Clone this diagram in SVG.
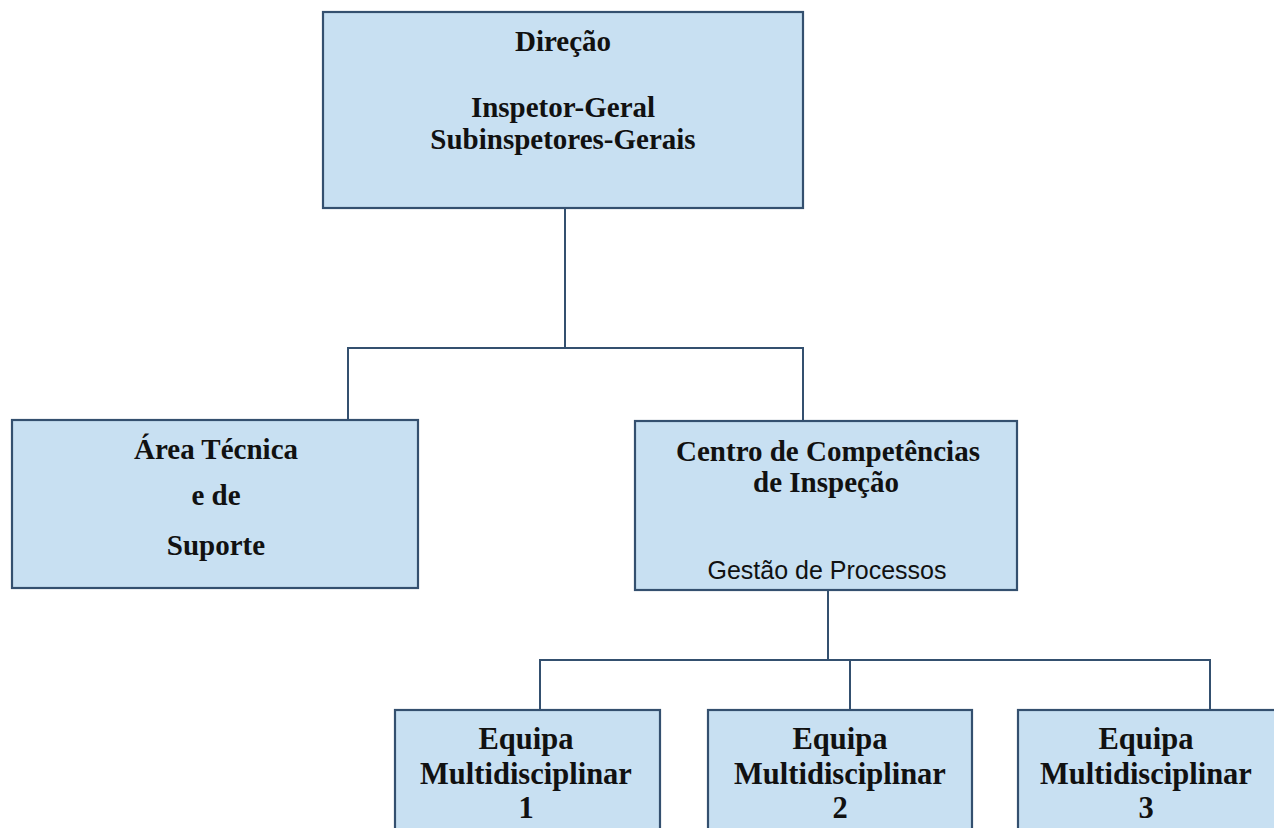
<svg xmlns="http://www.w3.org/2000/svg" width="1274" height="828" viewBox="0 0 1274 828">
<style>
.box{fill:#c8e0f2;stroke:#34506f;stroke-width:2.2}
.t{font-family:"Liberation Serif","Times New Roman",serif;font-weight:bold;font-size:29px;fill:#111;text-anchor:middle}
.b{font-size:30.5px}
.s{font-family:"Liberation Sans",Arial,sans-serif;font-size:25px;fill:#111;text-anchor:middle}
.c{fill:none;stroke:#34506f;stroke-width:2}
</style>
<rect width="1274" height="828" fill="#ffffff"/>
<g id="connectors">
<path class="c" d="M565 208 V348 M348 420 V348 H803 V421"/>
<path class="c" d="M828 590 V660 M540 710 V660 H1210 V710 M850 660 V710"/>
</g>
<g id="direcao">
<rect class="box" x="323" y="12" width="480" height="196"/>
<text class="t" x="563" y="51">Direção</text>
<text class="t" x="563" y="117">Inspetor-Geral</text>
<text class="t" x="563" y="149">Subinspetores-Gerais</text>
</g>
<g id="area-tecnica">
<rect class="box" x="12" y="420" width="406" height="168"/>
<text class="t" x="216" y="459">Área Técnica</text>
<text class="t" x="216" y="505">e de</text>
<text class="t" x="216" y="555">Suporte</text>
</g>
<g id="centro">
<rect class="box" x="635" y="421" width="382" height="169"/>
<text class="t" x="828" y="461">Centro de Competências</text>
<text class="t" x="826" y="492">de Inspeção</text>
<text class="s" x="827" y="579">Gestão de Processos</text>
</g>
<g id="equipa1">
<rect class="box" x="395" y="710" width="265" height="140"/>
<text class="t b" x="526" y="749">Equipa</text>
<text class="t b" x="526" y="784">Multidisciplinar</text>
<text class="t b" x="526" y="818">1</text>
</g>
<g id="equipa2">
<rect class="box" x="708" y="710" width="264" height="140"/>
<text class="t b" x="840" y="749">Equipa</text>
<text class="t b" x="840" y="784">Multidisciplinar</text>
<text class="t b" x="840" y="818">2</text>
</g>
<g id="equipa3">
<rect class="box" x="1018" y="710" width="270" height="140"/>
<text class="t b" x="1146" y="749">Equipa</text>
<text class="t b" x="1146" y="784">Multidisciplinar</text>
<text class="t b" x="1146" y="818">3</text>
</g>
</svg>
